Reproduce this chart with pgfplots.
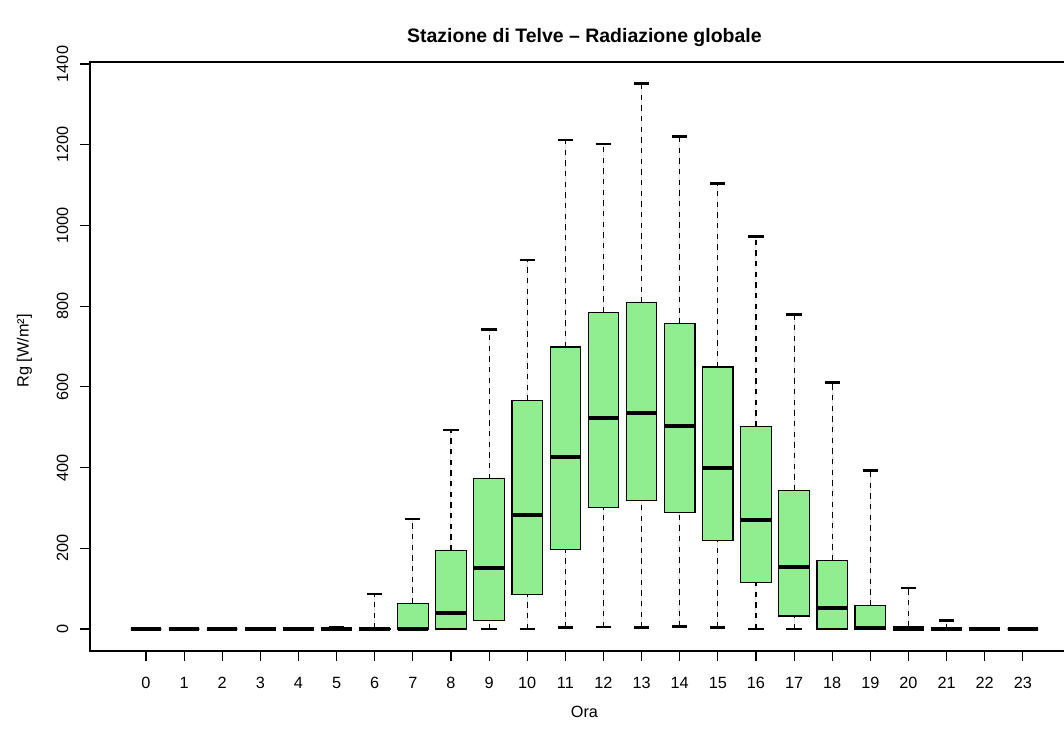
\documentclass[border=0pt]{standalone}
\usepackage{pgfplots}
\pgfplotsset{compat=1.18}
\usepackage{pgfplotstable}
\usepgfplotslibrary{statistics}
\usepackage{fontspec}
\setmainfont{Liberation Sans}

\definecolor{boxgreen}{RGB}{144,238,144}

% hour, lower whisker, lower quartile, median, upper quartile, upper whisker
\pgfplotstableread{
hour lw lq med uq uw
0  0 0   0   0   0
1  0 0   0   0   0
2  0 0   0   0   0
3  0 0   0   0   0
4  0 0   0   0   0
5  0 0   0   0   5
6  0 0   0   1   87
7  0 0   0   64  273
8  0 0   40  195 493
9  0 22  150 372 742
10 0 86  283 566 914
11 3 197 425 699 1212
12 5 302 522 785 1202
13 3 319 535 809 1351
14 6 289 504 757 1220
15 3 220 400 649 1104
16 0 116 269 502 972
17 0 32  153 344 779
18 0 0   53  170 610
19 0 0   3   59  392
20 0 0   1   6   102
21 0 0   0   0   21
22 0 0   0   0   0
23 0 0   0   0   0
}\rgdata

\begin{document}
\begin{tikzpicture}
\begin{axis}[
    scale only axis,
    width=730.5pt, height=441.75pt,
    xmin=-1.469, xmax=24.08,
    ymin=-54.5, ymax=1405,
    disabledatascaling,
    axis line style={draw=none},
    xtick={0,...,23},
    ytick={0,200,...,1400},
    xtick pos=left, ytick pos=left,
    tick align=outside,
    major tick length=7.5pt,
    tick style={black, line width=0.8pt},
    scaled y ticks=false,
    /pgf/number format/1000 sep={},
    /pgf/number format/assume math mode=true,
    ticklabel style={font=\fontsize{12.2}{14}\selectfont},
    xticklabel style={anchor=base, yshift=-20.25pt},
    yticklabel style={rotate=90, anchor=base, yshift=9pt},
    clip=false,
    boxplot/draw direction=y,
    boxplot/box extend=0.8,
    boxplot/whisker extend=0.4,
    boxplot/every median/.style={solid, line width=3pt},
    boxplot/every whisker/.style={black, line width=0.8pt},
    boxplot/draw/lower whisker/.code={
      \draw[/pgfplots/boxplot/every whisker/.try, dash pattern=on 4pt off 4pt]
        (boxplot cs:\pgfplotsboxplotvalue{lower whisker}) --
        (boxplot cs:\pgfplotsboxplotvalue{lower quartile});
      \draw[/pgfplots/boxplot/every whisker/.try, solid, line width=2pt]
        (boxplot whisker cs:\pgfplotsboxplotvalue{lower whisker},0) --
        (boxplot whisker cs:\pgfplotsboxplotvalue{lower whisker},1);
    },
    boxplot/draw/upper whisker/.code={
      \draw[/pgfplots/boxplot/every whisker/.try, dash pattern=on 4pt off 4pt]
        (boxplot cs:\pgfplotsboxplotvalue{upper quartile}) --
        (boxplot cs:\pgfplotsboxplotvalue{upper whisker});
      \draw[/pgfplots/boxplot/every whisker/.try, solid, line width=2pt]
        (boxplot whisker cs:\pgfplotsboxplotvalue{upper whisker},0) --
        (boxplot whisker cs:\pgfplotsboxplotvalue{upper whisker},1);
    },
]
\pgfplotsinvokeforeach{0,...,23}{
  \pgfplotstablegetelem{#1}{lw}\of\rgdata \let\vlw\pgfplotsretval
  \pgfplotstablegetelem{#1}{lq}\of\rgdata \let\vlq\pgfplotsretval
  \pgfplotstablegetelem{#1}{med}\of\rgdata \let\vmed\pgfplotsretval
  \pgfplotstablegetelem{#1}{uq}\of\rgdata \let\vuq\pgfplotsretval
  \pgfplotstablegetelem{#1}{uw}\of\rgdata \let\vuw\pgfplotsretval
  \edef\doplot{\noexpand\addplot[solid, draw=black, line width=0.9pt, fill=boxgreen, mark=none,
    boxplot prepared={draw position=#1, lower whisker=\vlw,
      lower quartile=\vlq, median=\vmed, upper quartile=\vuq,
      upper whisker=\vuw}] coordinates {};}
  \doplot
}
% frame without the right side (cut off in the reference)
\draw[black, line width=0.9pt] (rel axis cs:1,1) -- (rel axis cs:0,1) -- (rel axis cs:0,0) -- (rel axis cs:1,0);
\node[font=\bfseries\fontsize{14.6}{17}\selectfont, anchor=base] at (axis cs:11.5,1454) {Stazione di Telve – Radiazione globale};
\node[font=\fontsize{12.2}{14}\selectfont, anchor=base] at (axis cs:11.5,-220.5) {Ora};
\node[font=\fontsize{12.2}{14}\selectfont, anchor=base, rotate=90] at (axis cs:-3.08,689) {Rg [W/m²]};
\end{axis}
\pgfresetboundingbox
\path (-67.5pt,-58.5pt) rectangle (730.5pt,488.25pt);
\end{tikzpicture}
\end{document}
